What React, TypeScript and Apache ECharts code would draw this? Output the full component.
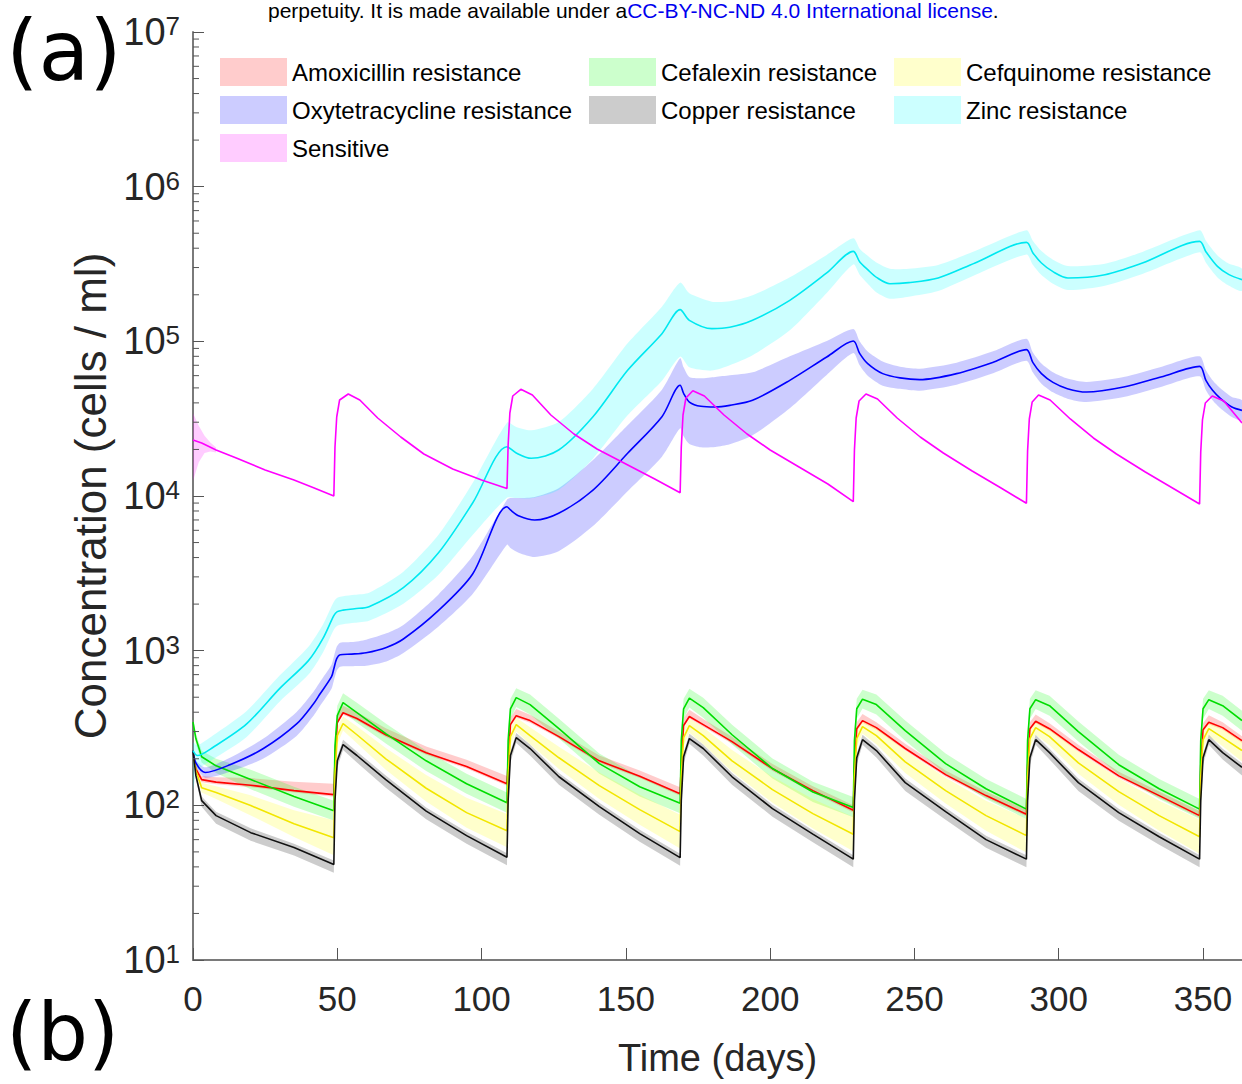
import React, { useEffect, useRef } from "react";
import * as echarts from "echarts";

// ---------------- data ----------------
// shared time grid for the four "low" resistance populations
const lowTimes = [0, 1, 3, 8, 20, 35, 48.8,
  49.2, 50, 52, 56.8, 66.8, 80.8, 94.8, 108.8,
  109.2, 110, 112, 116.8, 126.8, 140.8, 154.8, 168.8,
  169.2, 170, 172, 176.8, 186.8, 200.8, 214.8, 228.8,
  229.2, 230, 232, 236.8, 246.8, 260.8, 274.8, 288.8,
  289.2, 290, 292, 296.8, 306.8, 320.8, 334.8, 348.8,
  349.2, 350, 352, 356.8, 363.5];

const amoxMid = [226, 172, 146.6, 141.2, 135, 124.5, 117.3,
  194, 343, 397, 364, 286, 219, 178, 138,
  194, 332.6, 380, 353, 278, 194, 154, 119,
  188, 328, 375, 332.6, 258, 172.5, 124.5, 93,
  180, 313, 353, 318, 233, 158, 115.6, 87.7,
  180, 313, 350, 313, 229.5, 155, 115.6, 85.8,
  180, 308, 345, 318, 262];
const amoxHi = [233, 180, 155, 152, 150, 142, 138,
  215, 380, 440, 400, 315, 240, 197, 155,
  215, 370, 420, 385, 300, 210, 168, 131,
  205, 365, 415, 362, 278, 185, 133, 100,
  196, 345, 390, 345, 250, 168, 123, 94,
  196, 345, 387, 340, 246, 165, 123, 92,
  196, 340, 382, 345, 280];
const amoxLo = [219, 165, 141, 137, 131, 121, 113.8,
  188, 333, 385, 353, 277, 212, 173, 134,
  188, 322, 368, 342, 270, 188, 150, 115.5,
  182, 318, 364, 322, 250, 167, 121, 90,
  175, 304, 342, 308, 226, 153, 112, 85,
  175, 304, 340, 304, 222, 150, 112, 83,
  175, 299, 335, 308, 254];

const cefaMid = [345, 270, 206, 180, 147, 114, 92.4,
  243, 380, 461, 397, 291, 194, 138, 104,
  262, 421, 497, 448, 313, 186, 132, 103,
  262, 421, 493, 428, 286, 173, 122, 97,
  262, 421, 486, 448, 304, 186, 128, 94.5,
  262, 421, 482, 441, 300, 183, 128, 94.5,
  262, 421, 482, 441, 353];
const cefaHi = [373, 292, 225, 200, 170, 132, 107,
  282, 441, 530, 461, 338, 225, 160, 121,
  304, 488, 572, 520, 363, 216, 153, 119,
  304, 488, 567, 496, 332, 201, 142, 113,
  304, 488, 559, 520, 353, 216, 148, 110,
  304, 488, 554, 512, 348, 212, 148, 110,
  304, 488, 554, 512, 409];
const cefaLo = [319, 250, 189, 162, 127, 98, 79.7,
  209, 328, 401, 342, 251, 167, 119, 89.7,
  226, 363, 432, 386, 270, 160, 114, 88.8,
  226, 363, 429, 369, 247, 149, 105, 83.6,
  226, 363, 423, 386, 262, 160, 110, 81.5,
  226, 363, 419, 380, 259, 158, 110, 81.5,
  226, 363, 419, 380, 304];

const cefqMid = [226, 167.5, 130, 121, 99.6, 76.1, 61.8,
  155.5, 282, 338, 286, 200, 129, 89.7, 68.6,
  155.5, 278, 332.6, 282, 203, 134, 93.8, 67.6,
  155.5, 274, 328, 282, 194, 126.4, 88.4, 65.1,
  153, 270, 323, 282, 191, 124.5, 85.8, 63.7,
  153, 270, 318, 278, 188, 122.7, 85.8, 62.7,
  153, 265, 313, 274, 226];
const cefqHi = [236, 178, 140, 133, 116, 93, 80,
  180, 320, 375, 325, 235, 157, 112, 88,
  180, 315, 370, 320, 239, 163, 117, 87,
  180, 311, 364, 320, 228, 153, 110, 84,
  177, 306, 359, 320, 225, 151, 107, 82,
  177, 306, 353, 316, 221, 149, 107, 81,
  177, 301, 347, 311, 266];
const cefqLo = [216, 158, 121, 110, 86, 62.5, 47.5,
  134, 248, 305, 252, 170, 106, 71.5, 53.5,
  134, 245, 300, 248, 172, 110, 75, 52.5,
  134, 241, 295, 248, 165, 104, 70.7, 50.5,
  132, 238, 291, 248, 162, 102.6, 68.6, 49.5,
  132, 238, 286, 245, 160, 101, 68.6, 48.7,
  132, 233, 282, 241, 192];

const copperMid = [226, 155.5, 107.3, 85.8, 66.6, 53.3, 41.4,
  107.3, 194, 247, 210, 146.6, 91.7, 63.7, 46.2,
  107.3, 210, 274, 233, 153, 98.1, 65.6, 45.9,
  107.3, 206, 270, 233, 153, 95.2, 65.1, 44.9,
  107.3, 203, 266, 226, 140.2, 91, 60, 44.9,
  107.3, 203, 266, 219, 140.2, 89.7, 62.7, 44.9,
  107.3, 203, 266, 219, 176];
const copperHi = [233, 163, 114, 91, 71, 56.5, 44,
  114, 206, 265, 223, 156, 97, 67.5, 49,
  114, 223, 294, 247, 162, 104, 69.6, 48.7,
  114, 219, 290, 247, 162, 101, 69, 47.6,
  114, 215, 286, 240, 149, 96.5, 63.7, 47.6,
  114, 215, 286, 232, 149, 95, 66.5, 47.6,
  114, 215, 286, 232, 187];
const copperLo = [219, 148, 98, 76, 59, 47.3, 36.7,
  95, 175, 228, 189, 130, 81.4, 56.5, 41,
  95, 189, 253, 210, 136, 87, 58.2, 40.7,
  95, 186, 250, 210, 136, 84.5, 57.8, 39.8,
  95, 183, 246, 204, 124, 80.7, 53.2, 39.8,
  95, 183, 246, 198, 124, 79.6, 55.6, 39.8,
  95, 183, 246, 198, 156];

// Oxytetracycline resistance
const oxyTimes = [0, 1, 4.2, 12.8, 24.4, 35.9, 41.7, 44, 48, 48.8,
  49.8, 51, 55, 60, 67, 72.9, 85, 96.9, 108.8, 110,
  113, 118.4, 126.7, 138.6, 150.6, 162.5, 168.8, 170, 172, 176,
  181, 186, 193.9, 206.8, 219.6, 228.8, 231, 233.8, 239, 245,
  251.8, 264.6, 277.5, 288.8, 291, 294, 298, 303, 309.6, 322.5,
  335.4, 348.8, 351, 353.3, 356, 360, 363.5];
const oxyMid = [226, 188, 163, 183, 233, 336, 452, 525, 679, 765,
  888, 942, 950, 970, 1050, 1190, 1814, 3130, 8530, 8120,
  7425, 6995, 7730, 10930, 18890, 32570, 51950, 46100, 40500, 38000,
  37600, 38560, 41540, 55950, 79170, 100450, 83640, 71740, 61820, 58070,
  56530, 61820, 73480, 88380, 73150, 61820, 54310, 49440, 47010, 50640,
  58770, 68910, 55950, 48210, 42800, 37600, 35790];
const oxyHi = [233, 196, 176, 203, 270, 402, 541, 628, 812, 915,
  1062, 1127, 1136, 1178, 1294, 1466, 2302, 4091, 9470, 9710,
  9700, 9850, 11220, 17080, 28660, 48690, 77670, 67900, 58770, 57650,
  58770, 60270, 63020, 79950, 100500, 120100, 100000, 85800, 73940, 68410,
  66600, 72820, 86560, 104100, 84930, 71770, 63050, 57400, 54580, 58790,
  68230, 80000, 64950, 55970, 49690, 43650, 41550];
const oxyLo = [219, 180, 151, 165, 201, 281, 378, 439, 568, 640,
  742, 788, 794, 799, 852, 966, 1429, 2324, 4844, 4611,
  4280, 4032, 4390, 6395, 10730, 17950, 27390, 24300, 21680, 20640,
  20730, 21580, 24670, 36880, 60570, 83990, 69930, 59980, 51690, 49300,
  47990, 52480, 62380, 75030, 63010, 53250, 46780, 42590, 40490, 43620,
  50620, 59360, 48190, 41530, 36870, 32390, 30830];

// Zinc resistance
const zincTimes = [0, 1.5, 7, 18.6, 30, 40, 45, 48.8, 50, 52,
  56, 61, 72.9, 85, 96.9, 108.8, 112, 117.2, 126.7, 138.6,
  150.6, 162.5, 168.8, 172, 179.8, 186, 193.9, 206.8, 219.6, 228.8,
  231, 233.8, 237, 241.5, 248, 258.2, 271, 288.8, 291, 294,
  298, 303.2, 316, 329, 348.8, 351, 355, 359, 363.5];
const zincMid = [226, 210, 237.5, 336, 568, 862, 1196, 1684, 1787, 1828,
  1868, 1925, 2555, 4279, 9010, 20830, 18970, 17530, 19840, 32570,
  64940, 112100, 160300, 136700, 120800, 123200, 136700, 184100, 276700, 381700,
  327300, 290600, 257900, 235900, 239500, 256800, 321100, 436300, 374300, 321100,
  282100, 256800, 269800, 321100, 442900, 379900, 305200, 269800, 250400];
const zincHi = [255, 244, 284, 408, 690, 1062, 1473, 2075, 2202, 2252,
  2301, 2372, 3242, 5593, 12140, 29780, 27940, 26590, 30100, 49410,
  97080, 167600, 239600, 204400, 180600, 181500, 198300, 259200, 361600, 463400,
  397400, 358000, 322400, 294900, 295000, 311800, 384000, 521800, 447700, 384000,
  337400, 307100, 317800, 378200, 521700, 447500, 359500, 317800, 295000];
const zincLo = [124.6, 168, 198.6, 277, 468, 700, 971, 1367, 1451, 1484,
  1516, 1563, 2013, 3083, 5593, 9748, 9708, 9664, 10940, 17440,
  33230, 55690, 79630, 67910, 64670, 69960, 81180, 117800, 205400, 314400,
  269600, 235900, 206300, 188700, 194400, 211500, 268500, 364800, 313000, 268500,
  235900, 214700, 229000, 272600, 376000, 322500, 259100, 229000, 212600];

// Sensitive population
const sensTimes = [0, 3, 8, 15, 25, 35, 42, 48.8,
  49.2, 49.8, 50.8, 53.8, 57.8, 64, 72, 80, 90, 100, 108.8,
  109.2, 109.8, 110.8, 113.6, 117.6, 124, 132, 140, 150, 160, 168.8,
  169.2, 169.8, 170.8, 173.2, 177.2, 184, 192, 200, 210, 220, 228.8,
  229.2, 229.8, 230.8, 233.2, 237.2, 244, 252, 260, 270, 280, 288.8,
  289.2, 289.8, 290.8, 293, 297, 304, 312, 320, 330, 340, 348.8,
  349.2, 349.8, 350.8, 353.2, 357.2, 363.5];
const sensMid = [23020, 22010, 19840, 17610, 14730, 12690, 11270, 10000,
  20740, 32420, 41760, 45660, 41760, 31940, 24070, 18690, 14950, 12690, 11180,
  21370, 34410, 44320, 48970, 44990, 33400, 25170, 20130, 16100, 12880, 10500,
  20740, 33400, 43020, 47960, 44320, 33400, 25170, 19840, 15400, 11960, 9186,
  19840, 31940, 41140, 45660, 42390, 31940, 24070, 18970, 14510, 11265, 8970,
  19540, 31470, 40540, 44990, 41760, 31470, 23720, 18690, 14300, 11100, 8877,
  19250, 31010, 39940, 44320, 41140, 29650];
const sensBandTimes = [0, 2, 4, 6, 8];
const sensHi = [34400, 28500, 24500, 22200, 20600];
const sensLo = [12500, 16500, 19000, 19400, 19100];

// axis ticks
const xTickStep = 50;
const minorTickValues = [
  20, 30, 40, 50, 60, 70, 80, 90,
  200, 300, 400, 500, 600, 700, 800, 900,
  2000, 3000, 4000, 5000, 6000, 7000, 8000, 9000,
  20000, 30000, 40000, 50000, 60000, 70000, 80000, 90000,
  200000, 300000, 400000, 500000, 600000, 700000, 800000, 900000,
  2000000, 3000000, 4000000, 5000000, 6000000, 7000000, 8000000, 9000000];

const FONT = "'Liberation Sans', Arial, Helvetica, sans-serif";

type Pop = {
  name: string; times: number[]; mid: number[]; lo: number[]; hi: number[];
  line: string; band: string; bandTimes?: number[]; smooth?: number;
};

const pops: Pop[] = [
  { name: "Amoxicillin resistance", times: lowTimes, mid: amoxMid, lo: amoxLo, hi: amoxHi, line: "#ff0000", band: "rgba(255,0,0,0.2)" },
  { name: "Cefalexin resistance", times: lowTimes, mid: cefaMid, lo: cefaLo, hi: cefaHi, line: "#00dd00", band: "rgba(0,255,0,0.2)" },
  { name: "Cefquinome resistance", times: lowTimes, mid: cefqMid, lo: cefqLo, hi: cefqHi, line: "#f2e600", band: "rgba(255,255,0,0.2)" },
  { name: "Oxytetracycline resistance", times: oxyTimes, mid: oxyMid, lo: oxyLo, hi: oxyHi, line: "#0000ff", band: "rgba(0,0,255,0.2)", smooth: 0.3 },
  { name: "Copper resistance", times: lowTimes, mid: copperMid, lo: copperLo, hi: copperHi, line: "#111111", band: "rgba(0,0,0,0.2)" },
  { name: "Zinc resistance", times: zincTimes, mid: zincMid, lo: zincLo, hi: zincHi, line: "#00e8f0", band: "rgba(0,255,255,0.2)", smooth: 0.3 },
  { name: "Sensitive", times: sensTimes, mid: sensMid, lo: sensLo, hi: sensHi, bandTimes: sensBandTimes, line: "#ff00ff", band: "rgba(255,0,255,0.2)" },
];

function bandSeries(p: Pop, z: number): any {
  const bt = p.bandTimes || p.times;
  return {
    type: "custom",
    name: p.name,
    silent: true,
    clip: true,
    z,
    itemStyle: { color: p.band },
    encode: { x: 0, y: 1 },
    data: [[bt[0], p.hi[0]]],
    renderItem: (_params: any, api: any) => {
      const pts: number[][] = [];
      for (let i = 0; i < bt.length; i++) pts.push(api.coord([bt[i], p.hi[i]]));
      for (let i = bt.length - 1; i >= 0; i--) pts.push(api.coord([bt[i], p.lo[i]]));
      const shape: any = { points: pts };
      if (p.smooth) shape.smooth = p.smooth * 0.8;
      return { type: "polygon", shape, style: { fill: p.band, stroke: null } };
    },
  };
}

function lineSeries(p: Pop, z: number): any {
  return {
    type: "line",
    name: p.name + " (mean)",
    data: p.times.map((t, i) => [t, p.mid[i]]),
    showSymbol: false,
    symbol: "none",
    silent: true,
    clip: true,
    smooth: p.smooth || false,
    z,
    lineStyle: { color: p.line, width: 1.6 },
    itemStyle: { color: p.line },
  };
}

const legendCols = [
  { left: 220, items: ["Amoxicillin resistance", "Oxytetracycline resistance", "Sensitive"] },
  { left: 589, items: ["Cefalexin resistance", "Copper resistance"] },
  { left: 894, items: ["Cefquinome resistance", "Zinc resistance"] },
];

export default function App() {
  const ref = useRef<HTMLDivElement>(null);
  useEffect(() => {
    if (!ref.current) return;
    const chart = echarts.init(ref.current, null, { renderer: "svg" });
    const series: any[] = [];
    pops.forEach((p, i) => series.push(bandSeries(p, 1 + i * 0.01)));
    pops.forEach((p, i) => series.push(lineSeries(p, 2 + i * 0.01)));
    series.push({
      type: "custom",
      silent: true,
      clip: false,
      z: 5,
      data: minorTickValues.map((v) => [0, v]),
      encode: { x: 0, y: 1 },
      renderItem: (_params: any, api: any) => {
        const pt = api.coord([api.value(0), api.value(1)]);
        return {
          type: "line",
          shape: { x1: pt[0], y1: pt[1], x2: pt[0] + 6, y2: pt[1] },
          style: { stroke: "#555555", lineWidth: 1 },
        };
      },
    });

    chart.setOption({
      animation: false,
      backgroundColor: "#ffffff",
      textStyle: { fontFamily: FONT },
      grid: { left: 193, right: 0, top: 32, bottom: 124, containLabel: false },
      legend: legendCols.map((c) => ({
        orient: "vertical",
        left: c.left,
        top: 58,
        padding: 0,
        itemGap: 10,
        itemWidth: 67,
        itemHeight: 28,
        icon: "rect",
        selectedMode: false,
        data: c.items,
        itemStyle: { borderWidth: 0 },
        textStyle: { fontSize: 24, color: "#000000", fontFamily: FONT },
      })),
      xAxis: {
        type: "value",
        min: 0,
        max: 363.5,
        interval: xTickStep,
        name: "Time (days)",
        nameLocation: "middle",
        nameGap: 79,
        nameTextStyle: { fontSize: 38, color: "#262626", fontFamily: FONT },
        axisLine: { show: true, lineStyle: { color: "#7a7a7a", width: 2 } },
        axisTick: { show: true, inside: true, length: 12, lineStyle: { color: "#555555", width: 1 } },
        axisLabel: { fontSize: 35, color: "#262626", margin: 21, showMaxLabel: false, fontFamily: FONT },
        splitLine: { show: false },
      },
      yAxis: {
        type: "log",
        logBase: 10,
        min: 10,
        max: 10000000,
        name: "Concentration (cells / ml)",
        nameLocation: "middle",
        nameGap: 74,
        nameTextStyle: { fontSize: 44, color: "#262626", fontFamily: FONT },
        axisLine: { show: true, lineStyle: { color: "#7a7a7a", width: 2 } },
        axisTick: { show: true, inside: true, length: 11, lineStyle: { color: "#555555", width: 1 } },
        axisLabel: {
          margin: 13,
          formatter: (v: number) => `{b|10}{s|${Math.round(Math.log10(v))}}`,
          rich: {
            b: { fontSize: 38, color: "#262626", fontFamily: FONT, verticalAlign: "bottom", lineHeight: 38 },
            s: { fontSize: 26, color: "#262626", fontFamily: FONT, verticalAlign: "top", lineHeight: 26, padding: [0, 0, 24, 0] },
          },
        },
        splitLine: { show: false },
      },
      graphic: [
        {
          type: "text",
          left: 268,
          top: 0,
          silent: true,
          style: {
            text: "{a|perpetuity. It is made available under a}{b|CC-BY-NC-ND 4.0 International license}{a|.}",
            rich: {
              a: { fontSize: 21, fontFamily: FONT, fill: "#000000", lineHeight: 21 },
              b: { fontSize: 21, fontFamily: FONT, fill: "#0000ee", lineHeight: 21 },
            },
          },
        },
        {
          type: "text",
          left: 6,
          top: 10,
          silent: true,
          style: { text: "(a)", fontSize: 83, lineHeight: 83, fontFamily: "'DejaVu Sans', sans-serif", fill: "#000000" },
        },
        {
          type: "text",
          left: 6,
          top: 992,
          silent: true,
          style: { text: "(b)", fontSize: 80, lineHeight: 80, fontFamily: "'DejaVu Sans', sans-serif", fill: "#000000" },
        },
      ],
      series,
    });
    return () => chart.dispose();
  }, []);
  return (
    <div
      ref={ref}
      style={{ position: "absolute", left: 0, top: 0, width: 1242, height: 1084, background: "#fff" }}
    />
  );
}
